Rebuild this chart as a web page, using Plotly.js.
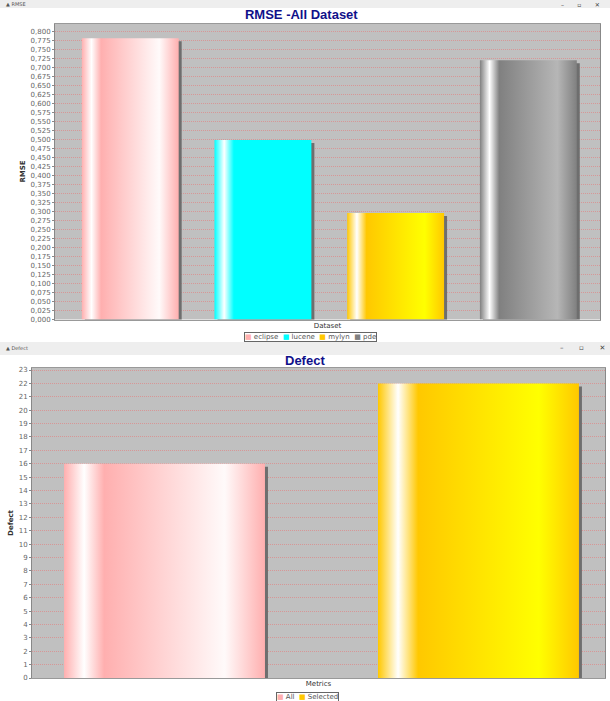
<!DOCTYPE html>
<html>
<head>
<meta charset="utf-8">
<script src="https://cdn.plot.ly/plotly-3.0.1.min.js"></script>
<style>html,body{margin:0;padding:0;background:#fff;}#chart{width:610px;height:701px;}</style>
</head>
<body>
<div id="chart"></div>
<script>
// ---- data ----
const rmseTitle = 'RMSE -All Dataset';
const rmseSeries = ['eclipse', 'lucene', 'mylyn', 'pde'];
const rmseValues = [0.782, 0.499, 0.296, 0.721];
const rmseXTitle = 'Dataset';
const rmseYTitle = 'RMSE';

const defectTitle = 'Defect';
const defectSeries = ['All', 'Selected'];
const defectValues = [16, 22];
const defectXTitle = 'Metrics';
const defectYTitle = 'Defect';

// ---- styles ----
const seriesColors = {
  eclipse: 'rgb(255,175,175)', lucene: 'rgb(0,255,255)', mylyn: 'rgb(255,200,0)', pde: 'rgb(128,128,128)',
  All: 'rgb(255,175,175)', Selected: 'rgb(255,200,0)'
};
const H = 701, W = 610;
const py = px => 1 - px / H;
const pxX = px => px / W;

const traces = [];
rmseSeries.forEach((s, i) => traces.push({
  type: 'bar', x: [s], y: [rmseValues[i]], name: s, xaxis: 'x', yaxis: 'y',
  marker: {color: seriesColors[s], line: {width: 0}}, width: 0.73, showlegend: false
}));
defectSeries.forEach((s, i) => traces.push({
  type: 'bar', x: [s], y: [defectValues[i]], name: s, xaxis: 'x2', yaxis: 'y2',
  marker: {color: seriesColors[s], line: {width: 0}}, width: 0.64, showlegend: false
}));

const tickFont = {family: 'DejaVu Sans, sans-serif', size: 7, color: '#666'};
const axisTitleFont = {family: 'DejaVu Sans, sans-serif', size: 7, color: '#333'};
const gridStyle = {showgrid: true, gridcolor: 'rgb(215,150,150)', griddash: '1px,1px', gridwidth: 1};
const titleFont = {family: 'Liberation Sans, Arial, sans-serif', size: 13, color: '#10108a', weight: 'bold'};

function legendText(names) {
  return names.map(n => `<span style="color:${seriesColors[n]}">■</span> ${n}`).join('  ');
}

const layout = {
  width: W, height: H,
  margin: {l: 0, r: 0, t: 0, b: 0},
  paper_bgcolor: '#ffffff', plot_bgcolor: '#c0c0c0',
  separators: ',.',
  barmode: 'overlay',
  hovermode: false,
  showlegend: false,
  title: {text: rmseTitle, x: 0.494, xanchor: 'center', xref: 'paper', y: py(14), yref: 'container', yanchor: 'middle',
    font: titleFont},
  xaxis: {domain: [pxX(55), pxX(600)], anchor: 'y', type: 'category', range: [-0.567, 3.54],
    showticklabels: false, ticks: '', showline: true, linecolor: '#999', mirror: true,
    title: {text: rmseXTitle, font: axisTitleFont, standoff: 3}},
  yaxis: {domain: [py(319.5), py(23.5)], anchor: 'x', range: [0, 0.823], dtick: 0.025, tick0: 0,
    tickformat: '.3f', tickfont: tickFont, ticks: 'outside', ticklen: 2, tickcolor: '#888',
    showline: true, linecolor: '#888', mirror: true, zeroline: false, ...gridStyle,
    title: {text: '<b>' + rmseYTitle + '</b>', font: axisTitleFont, standoff: 4}},
  xaxis2: {domain: [pxX(32), pxX(605)], anchor: 'y2', type: 'category', range: [-0.422, 1.403],
    showticklabels: false, ticks: '', showline: true, linecolor: '#999', mirror: true,
    title: {text: defectXTitle, font: axisTitleFont, standoff: 3}},
  yaxis2: {domain: [py(678), py(368)], anchor: 'x2', range: [0, 23.15], dtick: 1, tick0: 0,
    tickfont: tickFont, ticks: 'outside', ticklen: 2, tickcolor: '#888',
    showline: true, linecolor: '#888', mirror: true, zeroline: false, ...gridStyle,
    title: {text: '<b>' + defectYTitle + '</b>', font: axisTitleFont, standoff: 4}},
  shapes: [
    {type: 'rect', xref: 'paper', yref: 'paper', x0: 0, x1: 1, y0: py(8), y1: 1, fillcolor: '#eeeeee', line: {width: 0}, layer: 'below'},
    {type: 'rect', xref: 'paper', yref: 'paper', x0: 0, x1: 1, y0: py(355), y1: py(342), fillcolor: '#eeeeee', line: {width: 0}, layer: 'below'}
  ],
  annotations: [
    {text: defectTitle, xref: 'paper', yref: 'paper', x: 0.5, y: py(360), xanchor: 'center', yanchor: 'middle', showarrow: false,
      font: titleFont},
    {text: legendText(rmseSeries), xref: 'paper', yref: 'paper', x: pxX(310), y: py(337), xanchor: 'center', yanchor: 'middle',
      showarrow: false, bordercolor: '#666', borderwidth: 1, borderpad: 0, bgcolor: '#fff',
      font: {family: 'DejaVu Sans, sans-serif', size: 7, color: '#555'}},
    {text: legendText(defectSeries), xref: 'paper', yref: 'paper', x: pxX(307), y: py(697), xanchor: 'center', yanchor: 'middle',
      showarrow: false, bordercolor: '#666', borderwidth: 1, borderpad: 0, bgcolor: '#fff',
      font: {family: 'DejaVu Sans, sans-serif', size: 7, color: '#555'}},
    // window title bars
    {text: '▲ RMSE', xref: 'paper', yref: 'paper', x: pxX(4), y: py(4), xanchor: 'left', yanchor: 'middle', showarrow: false,
      font: {family: 'DejaVu Sans, sans-serif', size: 5, color: '#555'}},
    {text: '–       ▫       ✕', xref: 'paper', yref: 'paper', x: pxX(602), y: py(4), xanchor: 'right', yanchor: 'middle', showarrow: false,
      font: {family: 'DejaVu Sans, sans-serif', size: 6, color: '#444'}},
    {text: '▲ Defect', xref: 'paper', yref: 'paper', x: pxX(4), y: py(348), xanchor: 'left', yanchor: 'middle', showarrow: false,
      font: {family: 'DejaVu Sans, sans-serif', size: 5, color: '#555'}},
    {text: '–       ▫       ✕', xref: 'paper', yref: 'paper', x: pxX(607), y: py(348), xanchor: 'right', yanchor: 'middle', showarrow: false,
      font: {family: 'DejaVu Sans, sans-serif', size: 7, color: '#444'}}
  ]
};

function brighter(rgb) {
  const f = 0.7, i = Math.floor(1 / (1 - f));
  if (rgb.every(v => v === 0)) return [i, i, i];
  return rgb.map(v => Math.min(255, Math.floor((v > 0 && v < i ? i : v) / f)));
}

function applyEffects(gd) {
  const ns = 'http://www.w3.org/2000/svg';
  const svg = gd.querySelector('svg.main-svg');
  let defs = svg.querySelector('defs');
  if (!defs) { defs = document.createElementNS(ns, 'defs'); svg.insertBefore(defs, svg.firstChild); }
  gd.querySelectorAll('.gridlayer path').forEach(p => { p.style.shapeRendering = 'crispEdges'; });
  const made = {};
  gd.querySelectorAll('.barlayer .point path').forEach(p => {
    const m = (p.style.fill || '').match(/\d+/g);
    if (!m) return;
    const c0 = m.slice(0, 3).map(Number);
    const c1 = brighter(c0);
    const key = 'jfgrad_' + c0.join('_');
    if (!made[key]) {
      const lg = document.createElementNS(ns, 'linearGradient');
      lg.setAttribute('id', key);
      lg.setAttribute('x1', '0'); lg.setAttribute('y1', '0'); lg.setAttribute('x2', '1'); lg.setAttribute('y2', '0');
      const col = c => `rgb(${c.join(',')})`;
      [[0, col(c0)], [0.1, '#ffffff'], [0.2, col(c0)], [0.8, col(c1)], [1, col(c0)]].forEach(([o, c]) => {
        const st = document.createElementNS(ns, 'stop');
        st.setAttribute('offset', o);
        st.setAttribute('stop-color', c);
        lg.appendChild(st);
      });
      defs.appendChild(lg);
      made[key] = true;
    }
    const sh = p.cloneNode(true);
    sh.style.fill = 'rgb(110,110,110)';
    sh.setAttribute('transform', 'translate(3,3)');
    p.parentNode.insertBefore(sh, p);
    p.style.fill = `url(#${key})`;
  });
}

Plotly.newPlot('chart', traces, layout, {staticPlot: true, displayModeBar: false}).then(applyEffects);
</script>
</body>
</html>
